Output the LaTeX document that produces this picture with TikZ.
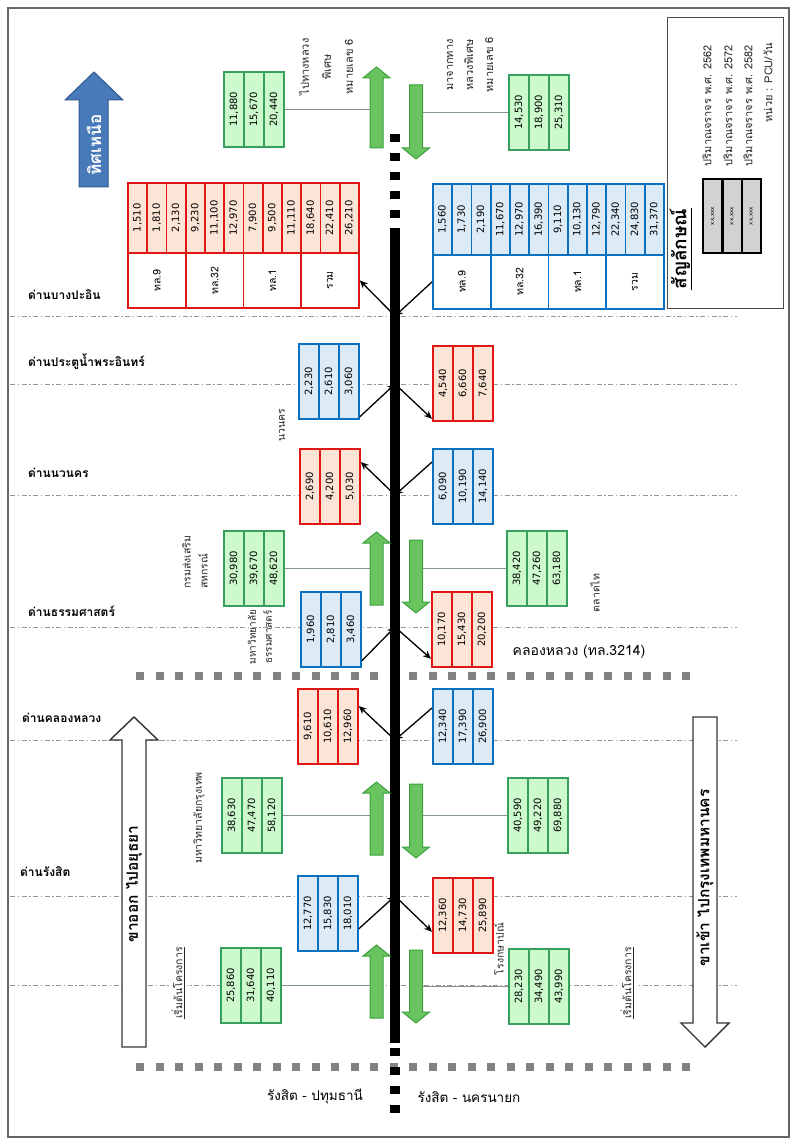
\documentclass[tikz,border=0pt]{standalone}
\usepackage{fontspec}
\setmainfont{DejaVu Sans}
\newfontfamily\thai[Script=Thai]{Loma}
\usetikzlibrary{arrows.meta}
\definecolor{redB}{RGB}{222,22,22}
\definecolor{redF}{RGB}{252,228,214}
\definecolor{bluB}{RGB}{10,112,192}
\definecolor{bluF}{RGB}{220,235,246}
\definecolor{grnB}{RGB}{55,160,95}
\definecolor{grnF}{RGB}{205,250,205}
\definecolor{arrG}{RGB}{105,195,95}
\definecolor{arrGd}{RGB}{60,160,60}
\definecolor{northF}{RGB}{72,122,186}
\definecolor{northD}{RGB}{48,88,145}
\definecolor{sqGray}{RGB}{130,130,130}
\definecolor{ddGray}{RGB}{150,150,150}
\definecolor{connG}{RGB}{130,150,135}
\tikzset{
 numfont/.style={font=\fontsize{10}{11}\selectfont},
 cellbase/.style={line width=1.8pt, minimum width=20pt, minimum height=75pt, inner sep=0pt, anchor=north west, numfont},
 rcell/.style={cellbase, draw=redB, fill=redF},
 bcell/.style={cellbase, draw=bluB, fill=bluF},
 gcell/.style={cellbase, draw=grnB, fill=grnF},
 framebase/.style={line width=1.8pt, minimum width=60pt, minimum height=75pt, inner sep=0pt, anchor=north west},
 rframe/.style={framebase, draw=redB},
 bframe/.style={framebase, draw=bluB},
 gframe/.style={framebase, draw=grnB},
 bigR/.style={rcell, minimum width=19.25pt, minimum height=70pt},
 bigB/.style={bcell, minimum width=19.25pt, minimum height=71pt},
 labbase/.style={fill=white, line width=1.8pt, minimum width=57.75pt, inner sep=0pt, anchor=north west, font=\thai\fontsize{10.5}{12}\selectfont},
 labR/.style={labbase, draw=redB, minimum height=55pt},
 labB/.style={labbase, draw=bluB, minimum height=54pt},
 ddline/.style={draw=ddGray, line width=0.9pt, dash pattern=on 5pt off 2.5pt on 1.5pt off 2.5pt},
 sqline/.style={draw=sqGray, line width=8pt, dash pattern=on 8pt off 11.5pt},
 roadline/.style={draw=black, line width=10pt},
 garrow/.style={fill=arrG, draw=arrGd, line width=1pt},
 bigarrow/.style={fill=white, draw=black!80, line width=1.4pt},
 conn/.style={draw=black, line width=1.3pt, -{Stealth[length=8pt,width=7pt]}},
 gconn/.style={draw=connG, line width=1pt},
 station/.style={anchor=west, inner sep=1pt, font=\thai\bfseries\fontsize{12}{14}\selectfont},
 small/.style={rotate=90, inner sep=1pt, text=black!85, font=\thai\fontsize{10.5}{12}\selectfont},
 legtext/.style={rotate=90, anchor=east, inner sep=0pt, text=black!85, font=\thai\fontsize{11}{12}\selectfont},
 legcell/.style={draw=black, fill=gray!35, line width=2.4pt, minimum width=19.3pt, minimum height=74pt, inner sep=0pt, anchor=north west, font=\fontsize{5.5}{6}\selectfont},
 bigtext/.style={rotate=90, inner sep=0pt, font=\thai\bfseries\fontsize{15.5}{17}\selectfont},
}
\newcommand{\tribox}[7]{%
 \node[#2cell] (#1-1) at (#3,#4) {\rotatebox{90}{#5}};
 \node[#2cell] (#1-2) at (#3+20,#4) {\rotatebox{90}{#6}};
 \node[#2cell] (#1-3) at (#3+40,#4) {\rotatebox{90}{#7}};
 \node[#2frame] (#1) at (#3,#4) {};
}
\newcommand{\grnup}[3]{% x, tip, bottom
 \draw[garrow] (#1-6.5,#3) -- (#1-6.5,#2+11) -- (#1-13.5,#2+11) -- (#1,#2) -- (#1+13.5,#2+11) -- (#1+6.5,#2+11) -- (#1+6.5,#3) -- cycle;
}
\newcommand{\grndn}[3]{% x, top, tip
 \draw[garrow] (#1-6.5,#2) -- (#1-6.5,#3-11) -- (#1-13.5,#3-11) -- (#1,#3) -- (#1+13.5,#3-11) -- (#1+6.5,#3-11) -- (#1+6.5,#2) -- cycle;
}
\begin{document}
\begin{tikzpicture}[x=1pt,y=-1pt]
\useasboundingbox (0,0) rectangle (790,1139);
\fill[white] (0,0) rectangle (790,1139);
\draw[black!60, line width=1.2pt] (8,8) rectangle (789,1137);

% station lines
\foreach \yy in {316,384,495,627,740,896,985}
  \draw[ddline] (10,\yy) -- (737,\yy);
% thick gray dashed lines
\draw[sqline] (136,676) -- (692,676);
\draw[sqline] (136,1067) -- (692,1067);

% road
\draw[roadline, dash pattern=on 8pt off 11pt] (395,134) -- (395,222);
\draw[roadline] (395,228) -- (395,1043);
\draw[roadline, dash pattern=on 8pt off 11pt] (395,1048) -- (395,1117);

\coordinate (s1) at (395,316);
\coordinate (s2) at (395,384);
\coordinate (s3) at (395,495);
\coordinate (s4) at (395,627);
\coordinate (s5) at (395,740);
\coordinate (s6) at (395,896);

% green arrows
\grnup{376.5}{67}{148}
\grndn{416}{85}{159}
\grnup{376.5}{532}{605}
\grndn{416}{540}{613}
\grnup{376.5}{782}{855}
\grndn{416}{784}{858}
\grnup{376.5}{945}{1018}
\grndn{416}{950}{1023}
\coordinate (ua) at (370,0);
\coordinate (da) at (422.5,0);

% north arrow
\draw[fill=northF, draw=northD, line width=1pt] (79,187) -- (79,100) -- (65,100) -- (94,72) -- (123,100) -- (108,100) -- (108,187) -- cycle;
\node[rotate=90, text=white, inner sep=0pt, font=\thai\bfseries\fontsize{17}{20}\selectfont] (north) at (94,145) {ทิศเหนือ};

% legend
\node[draw=black!70, line width=1pt, minimum width=116pt, minimum height=291pt, inner sep=0pt, anchor=north west] (legend) at (667,17) {};
\node[legcell] (lc1) at (702,178) {\rotatebox{90}{xx,xxx}};
\node[legcell] (lc2) at (721.3,178) {\rotatebox{90}{xx,xxx}};
\node[legcell] (lc3) at (740.6,178) {\rotatebox{90}{xx,xxx}};
\node[legtext] (lt1) at (707,45) {ปริมาณจราจร พ.ศ. 2562};
\node[legtext] (lt2) at (728,45) {ปริมาณจราจร พ.ศ. 2572};
\node[legtext] (lt3) at (748,45) {ปริมาณจราจร พ.ศ. 2582};
\node[legtext] (lt4) at (768,43) {หน่วย : PCU/วัน};
\node[rotate=90, inner sep=0pt, font=\thai\bfseries\fontsize{19}{21}\selectfont] (legtitle) at (681,249) {\underline{สัญลักษณ์}};

% top green boxes
\tribox{g1L}{g}{223}{71}{11,880}{15,670}{20,440}
\tribox{g1R}{g}{508}{74}{14,530}{18,900}{25,310}
\draw[gconn] (g1L.east) -- (g1L.east -| ua);
\draw[gconn] (g1R.west -| da) -- (g1R.west);
\node[rotate=90, align=center, fill=white, inner sep=4pt, text=black!85, font=\thai\fontsize{11}{22}\selectfont] (lab1) at (326,67) {ไปทางหลวง\\พิเศษ\\หมายเลข 6};
\node[rotate=90, align=center, fill=white, inner sep=4pt, text=black!85, font=\thai\fontsize{11}{20}\selectfont] (lab2) at (470,65) {มาจากทาง\\หลวงพิเศษ\\หมายเลข 6};

% big red box (Bang Pa-in outbound)
\foreach [count=\i] \v in {{1,510},{1,810},{2,130},{9,230},{11,100},{12,970},{7,900},{9,500},{11,110},{18,640},{22,410},{26,210}}
  \node[bigR] (rb\i) at ({127+(\i-1)*19.25},182) {\rotatebox{90}{\v}};
\foreach [count=\i] \v in {ทล.9,ทล.32,ทล.1,รวม}
  \node[labR] (rbl\i) at ({127+(\i-1)*57.75},252) {\rotatebox{90}{\v}};
% big blue box
\foreach [count=\i] \v in {{1,560},{1,730},{2,190},{11,670},{12,970},{16,390},{9,110},{10,130},{12,790},{22,340},{24,830},{31,370}}
  \node[bigB] (bb\i) at ({432+(\i-1)*19.25},183) {\rotatebox{90}{\v}};
\foreach [count=\i] \v in {ทล.9,ทล.32,ทล.1,รวม}
  \node[labB] (bbl\i) at ({432+(\i-1)*57.75},254) {\rotatebox{90}{\v}};
\draw[conn] (s1) -- (rbl4.east);
\draw[conn] (bbl1.west) -- (s1);

% Pratunam Phra In
\tribox{pbL}{b}{298}{343}{2,230}{2,610}{3,060}
\tribox{pbR}{r}{432}{345}{4,540}{6,660}{7,640}
\draw[conn] ([yshift=3pt]pbL.south east) -- (s2);
\draw[conn] (s2) -- ([yshift=3pt]pbR.south west);
\node[small] (lnav) at (282,425) {นวนคร};

% Navanakorn
\tribox{nvL}{r}{299}{448}{2,690}{4,200}{5,030}
\tribox{nvR}{b}{432}{448}{6,090}{10,190}{14,140}
\draw[conn] (s3) -- ([yshift=-14pt]nvL.north east);
\draw[conn] ([yshift=-14pt]nvR.north west) -- (s3);

% green pair 2
\tribox{g2L}{g}{223}{530}{30,980}{39,670}{48,620}
\tribox{g2R}{g}{506}{530}{38,420}{47,260}{63,180}
\draw[gconn] (g2L.east) -- (g2L.east -| ua);
\draw[gconn] (g2R.west -| da) -- (g2R.west);
\node[small, anchor=west, align=left, font=\thai\fontsize{10.5}{17}\selectfont] (lcoop) at (195,590) {กรมส่งเสริม\\สหกรณ์};
\node[small] (ltalad) at (595,593) {ตลาดไท};

% Thammasat
\tribox{tmL}{b}{300}{591}{1,960}{2,810}{3,460}
\tribox{tmR}{r}{431}{591}{10,170}{15,430}{20,200}
\draw[conn] ([yshift=7pt]tmL.south east) -- (s4);
\draw[conn] (s4) -- ([yshift=9pt]tmR.south west);
\node[small, align=center, font=\thai\fontsize{10}{16}\selectfont] (ltu) at (260,637) {มหาวิทยาลัย\\ธรรมศาสตร์};
\node[fill=white, inner sep=5pt, font=\thai\fontsize{14}{16}\selectfont] (lkl) at (579,652) {คลองหลวง (ทล.3214)};

% Khlong Luang
\tribox{klL}{r}{297}{688}{9,610}{10,610}{12,960}
\tribox{klR}{b}{432}{688}{12,340}{17,390}{26,900}
\draw[conn] (s5) -- ([yshift=-18pt]klL.north east);
\draw[conn] ([yshift=-20pt]klR.north west) -- (s5);

% green pair 3
\tribox{g3L}{g}{221}{777}{38,630}{47,470}{58,120}
\tribox{g3R}{g}{507}{777}{40,590}{49,220}{69,880}
\draw[gconn] (g3L.east) -- (g3L.east -| ua);
\draw[gconn] (g3R.west -| da) -- (g3R.west);
\node[small] (lbu) at (199,818) {มหาวิทยาลัยกรุงเทพ};

% Rangsit
\tribox{rsL}{b}{297}{875}{12,770}{15,830}{18,010}
\tribox{rsR}{r}{432}{877}{12,360}{14,730}{25,890}
\draw[conn] ([yshift=23pt]rsL.south east) -- (s6);
\draw[conn] (s6) -- ([yshift=22pt]rsR.south west);
\node[small] (lmint) at (499,949) {โรงกษาปณ์};

% green pair 4
\tribox{g4L}{g}{220}{947}{25,860}{31,640}{40,110}
\tribox{g4R}{g}{508}{948}{28,230}{34,490}{43,990}
\draw[gconn] (g4L.east) -- (g4L.east -| ua);
\draw[gconn] (g4R.west -| da) -- (g4R.west);
\node[small, fill=white, inner sep=3pt] (lstartL) at (178,983) {\underline{เริ่มต้นโครงการ}};
\node[small, fill=white, inner sep=3pt] (lstartR) at (627,983) {\underline{เริ่มต้นโครงการ}};

% big white direction arrows
\draw[bigarrow] (122,1047) -- (122,740) -- (110,740) -- (134,717) -- (158,740) -- (146,740) -- (146,1047) -- cycle;
\node[bigtext] (outtxt) at (134,884) {ขาออก ไปอยุธยา};
\draw[bigarrow] (693,717) -- (693,1023) -- (681,1023) -- (705,1047) -- (729,1023) -- (717,1023) -- (717,717) -- cycle;
\node[bigtext] (intxt) at (705,878) {ขาเข้า ไปกรุงเทพมหานคร};

% station names
\node[station] (st1) at (27,295) {ด่านบางปะอิน};
\node[station] (st2) at (27,362) {ด่านประตูน้ำพระอินทร์};
\node[station] (st3) at (27,473) {ด่านนวนคร};
\node[station] (st4) at (27,611) {ด่านธรรมศาสตร์};
\node[station] (st5) at (21,718) {ด่านคลองหลวง};
\node[station] (st6) at (19,872) {ด่านรังสิต};

% end labels
\node[font=\thai\fontsize{13.5}{15}\selectfont] (endL) at (315,1097) {รังสิต - ปทุมธานี};
\node[font=\thai\fontsize{13.5}{15}\selectfont] (endR) at (469,1097) {รังสิต - นครนายก};
\end{tikzpicture}
\end{document}
